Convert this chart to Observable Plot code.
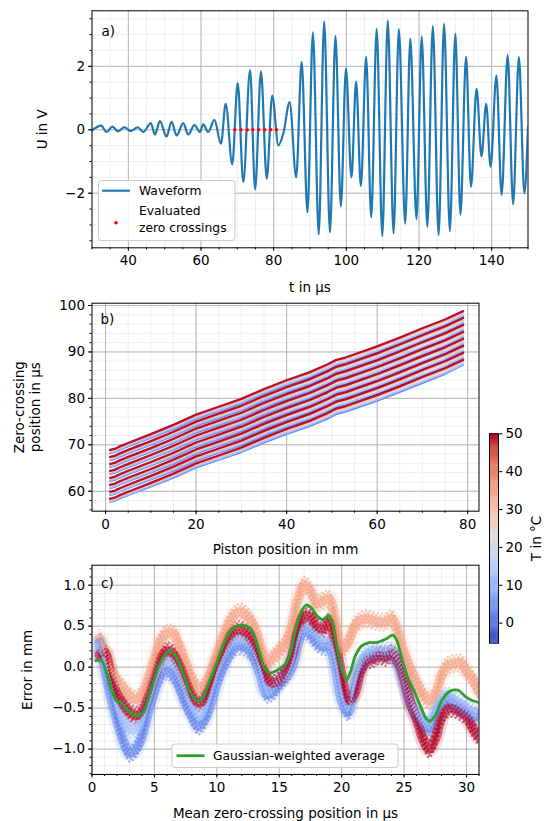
<!DOCTYPE html>
<html><head><meta charset="utf-8">
<script src="https://cdn.jsdelivr.net/npm/d3@7"></script>
<script src="https://cdn.jsdelivr.net/npm/@observablehq/plot@0.6"></script>
<style>
body{margin:0;background:#fff;}
#root{position:relative;width:546px;height:821px;font-family:"DejaVu Sans",sans-serif;overflow:hidden;}
#root > svg, #root > figure, #root > div{position:absolute;}
</style></head><body><div id="root"></div>
<script>
// ---------- Panel a: waveform (extrema) ----------
const waveT = [30, 32.5, 34.0, 35.6, 37.2, 38.9, 40.7, 42.6, 44.1, 46.2, 47.3, 48.7, 50.5, 51.9, 53.3, 55.1, 56.5, 58.2, 59.7, 60.6, 62.0, 63.7, 65.5, 66.8, 68.6, 70.1, 71.65, 73.5, 74.9, 76.5, 78.1, 79.6, 81.3, 82.7, 84.4, 86.2, 87.7, 89.3, 90.8, 92.4, 93.9, 95.5, 97.0, 98.5, 99.9, 101.4, 102.7, 104.0, 105.45, 106.85, 108.35, 109.9, 111.4, 113.0, 114.45, 116.2, 117.6, 119.3, 120.75, 122.3, 123.8, 125.4, 126.9, 128.5, 130.0, 131.4, 132.95, 134.3, 135.85, 137.2, 138.5, 139.7, 141.3, 142.75, 144.4, 145.9, 147.5, 149.0, 150];
const waveU = [-0.02, 0.13, -0.07, 0.1, -0.05, 0.08, -0.04, 0.08, -0.07, 0.21, -0.15, 0.27, -0.21, 0.25, -0.18, 0.21, -0.15, 0.15, -0.07, 0.17, -0.07, 0.31, -0.44, 0.82, -1.09, 1.47, -1.64, 1.88, -1.88, 1.84, -1.54, 1.08, -0.49, -0.1, 0.87, -1.5, 2.14, -2.6, 3.07, -3.3, 3.42, -3.24, 2.96, -2.42, 1.94, -1.5, 1.52, -1.77, 2.3, -2.76, 3.18, -3.35, 3.44, -3.27, 3.17, -2.96, 2.87, -2.82, 2.94, -3.06, 3.27, -3.32, 3.34, -3.2, 3.03, -2.68, 2.3, -1.8, 1.29, -0.84, 0.82, -1.17, 1.71, -2.05, 2.35, -2.35, 2.29, -2.0, 0.1];
const zeroCrossings = [69.3, 71.0, 72.75, 74.25, 75.9, 77.55, 79.2, 80.75];

// ---------- Panel b: zero-crossing position vs piston position ----------
const pistonX = [1, 2, 3, 5, 10, 15, 20, 25, 30, 35, 40, 45, 49, 51, 53, 60, 65, 70, 75, 79];
// top zero crossing, one curve per temperature
const zcTemps = [2, 12, 30, 50];
const zcTop = {
  2:  [68.2, 68.4, 68.85, 69.65, 71.5, 73.4, 75.6, 77.25, 78.9, 80.95, 82.8, 84.45, 86.1, 87.1, 87.6, 89.95, 91.85, 93.8, 95.75, 97.7],
  12: [68.35, 68.55, 69.05, 69.85, 71.7, 73.65, 75.85, 77.5, 79.15, 81.25, 83.1, 84.75, 86.4, 87.4, 87.9, 90.25, 92.15, 94.1, 96.0, 97.9],
  30: [68.6, 68.8, 69.3, 70.1, 72.0, 73.95, 76.15, 77.85, 79.55, 81.65, 83.55, 85.25, 86.9, 87.9, 88.4, 90.8, 92.7, 94.7, 96.55, 98.35],
  50: [68.9, 69.1, 69.6, 70.4, 72.3, 74.3, 76.5, 78.2, 79.9, 82.0, 83.9, 85.6, 87.3, 88.3, 88.8, 91.2, 93.1, 95.1, 97.0, 98.8]
};
const crossingShift = [0, -1.5, -3.0, -4.5, -6.0, -7.5, -9.0, -10.5];

// ---------- Panel c: error vs mean zero-crossing position ----------
const cloudX = [0.6, 1, 1.5, 2, 2.5, 3, 3.5, 4, 4.5, 5, 5.5, 6, 6.5, 7, 7.5, 8, 8.5, 9, 9.5, 10, 10.5, 11, 11.5, 12, 12.5, 13, 13.5, 14, 14.5, 15, 15.5, 16, 16.5, 17, 17.5, 18, 18.5, 19, 19.5, 20, 20.5, 21, 21.5, 22, 22.5, 23, 23.5, 24, 24.5, 25, 25.5, 26, 26.5, 27, 27.5, 28, 28.5, 29, 29.5, 30, 30.5, 31];
const cloudTemps = [35, 2, 12, 50];
const cloudErr = {
  35: [0.35, 0.2, -0.02, -0.16, -0.26, -0.35, -0.39, -0.33, -0.14, 0.1, 0.33, 0.41, 0.41, 0.26, 0.06, -0.14, -0.26, -0.22, -0.06, 0.16, 0.37, 0.55, 0.65, 0.67, 0.61, 0.49, 0.26, 0.05, 0.12, 0.2, 0.3, 0.5, 0.83, 1.0, 0.93, 0.77, 0.81, 0.83, 0.57, 0.22, 0.3, 0.49, 0.57, 0.59, 0.57, 0.55, 0.55, 0.59, 0.43, 0.18, -0.02, -0.18, -0.33, -0.41, -0.33, -0.1, 0.02, 0.04, 0.05, -0.05, -0.15, -0.3],
  2:  [0.3, 0.0, -0.35, -0.65, -0.9, -1.05, -1.0, -0.85, -0.55, -0.3, -0.1, -0.05, -0.1, -0.25, -0.45, -0.6, -0.72, -0.65, -0.45, -0.2, 0.0, 0.15, 0.25, 0.25, 0.22, 0.1, -0.1, -0.33, -0.3, -0.2, -0.12, 0.0, 0.3, 0.45, 0.4, 0.3, 0.25, 0.25, 0.0, -0.4, -0.55, -0.25, 0.0, 0.1, 0.15, 0.15, 0.15, 0.15, 0.05, -0.2, -0.45, -0.6, -0.7, -0.75, -0.6, -0.45, -0.4, -0.45, -0.5, -0.55, -0.6, -0.6],
  12: [0.25, 0.1, -0.2, -0.5, -0.65, -0.75, -0.75, -0.65, -0.45, -0.2, 0.0, 0.08, 0.05, -0.1, -0.3, -0.5, -0.6, -0.55, -0.35, -0.1, 0.1, 0.25, 0.32, 0.33, 0.3, 0.18, -0.05, -0.3, -0.25, -0.15, -0.1, 0.05, 0.35, 0.48, 0.45, 0.38, 0.3, 0.3, 0.05, -0.35, -0.5, -0.2, 0.05, 0.15, 0.2, 0.2, 0.2, 0.2, 0.1, -0.15, -0.4, -0.55, -0.65, -0.7, -0.55, -0.4, -0.35, -0.4, -0.45, -0.5, -0.55, -0.55],
  50: [0.15, 0.18, -0.1, -0.33, -0.45, -0.55, -0.59, -0.55, -0.37, -0.12, 0.1, 0.2, 0.16, 0.02, -0.16, -0.35, -0.43, -0.39, -0.2, 0.02, 0.2, 0.37, 0.45, 0.45, 0.39, 0.26, 0.06, -0.12, -0.2, -0.16, -0.06, 0.12, 0.45, 0.63, 0.61, 0.49, 0.47, 0.55, 0.28, -0.1, -0.41, -0.33, -0.06, 0.08, 0.1, 0.14, 0.12, 0.16, 0.08, -0.14, -0.43, -0.63, -0.87, -1.0, -0.87, -0.61, -0.51, -0.51, -0.55, -0.6, -0.75, -0.85]
};
const avgX = [0.3, 0.75, 1.15, 1.55, 1.95, 2.35, 2.75, 3.3, 3.7, 4.1, 4.5, 5.0, 5.55, 6.1, 6.35, 6.75, 7.3, 7.85, 8.4, 8.8, 9.3, 10.0, 10.5, 11.05, 11.6, 12.1, 12.65, 13.05, 13.45, 13.85, 14.25, 14.8, 15.5, 15.9, 16.3, 16.8, 17.2, 17.6, 18.0, 18.5, 18.95, 19.2, 19.6, 20.0, 20.37, 20.7, 21.1, 21.6, 22.2, 22.8, 23.5, 24.1, 24.4, 24.8, 25.2, 25.77, 26.3, 26.7, 27.05, 27.5, 28.0, 28.6, 28.9, 29.3, 29.5, 30, 30.5, 31];
const avgErr = [0.08, 0.08, -0.06, -0.26, -0.41, -0.43, -0.51, -0.57, -0.59, -0.55, -0.39, -0.14, 0.08, 0.19, 0.2, 0.12, -0.08, -0.3, -0.41, -0.39, -0.22, 0.06, 0.26, 0.43, 0.5, 0.51, 0.48, 0.37, 0.16, -0.02, -0.07, -0.04, 0.04, 0.18, 0.45, 0.69, 0.76, 0.72, 0.63, 0.58, 0.63, 0.57, 0.26, -0.02, -0.16, -0.06, 0.14, 0.26, 0.3, 0.3, 0.34, 0.39, 0.33, 0.12, -0.1, -0.28, -0.47, -0.61, -0.66, -0.59, -0.41, -0.3, -0.28, -0.28, -0.3, -0.37, -0.41, -0.43];

// ---------- Colour bar ----------
const cbTicks = [0, 10, 20, 30, 40, 50];
const tMin = -5.3, tMax = 50;
const coolwarm = ["#3b4cc0","#6282ea","#8db0fe","#b8d0f9","#dddcdc","#f5c4ac","#f49a7b","#e26952","#b40426"];

// ---------- helpers ----------
const colorOpt = {type: "linear", domain: coolwarm.map((_, i) => tMin + i * (tMax - tMin) / 8), range: coolwarm, interpolate: "rgb"};
const style = {fontFamily: "'DejaVu Sans', sans-serif", fontSize: "13.5px", color: "#000", background: "transparent", overflow: "visible"};
const minus = s => s.replace("-", "\u2212");
const fmtInt = d => minus(String(d));
const fmt1 = d3.format(".1f");
const seq = (a, b, s) => { const r = []; for (let i = 0; a + i * s <= b + 1e-9; i++) r.push(+(a + i * s).toFixed(4)); return r; };

function frameMarks(xMinor, xMajor, yMinor, yMajor) {
  return [
    Plot.gridX(xMinor, {stroke: "#ebebeb", strokeOpacity: 1, strokeWidth: 0.8}),
    Plot.gridY(yMinor, {stroke: "#ebebeb", strokeOpacity: 1, strokeWidth: 0.8}),
    Plot.gridX(xMajor, {stroke: "#b0b0b0", strokeOpacity: 1, strokeWidth: 0.9}),
    Plot.gridY(yMajor, {stroke: "#b0b0b0", strokeOpacity: 1, strokeWidth: 0.9})
  ];
}
function axisMarks(xMinor, xMajor, yMinor, yMajor, fx, fy) {
  return [
    Plot.axisX({ticks: xMinor, tickSize: 2, tickFormat: () => "", label: null}),
    Plot.axisY({ticks: yMinor, tickSize: 2, tickFormat: () => "", label: null}),
    Plot.axisX({ticks: xMajor, tickSize: 3.5, tickPadding: 4.5, tickFormat: fx, label: null, fontSize: 13.5}),
    Plot.axisY({ticks: yMajor, tickSize: 3.5, tickPadding: 3.5, tickFormat: fy, label: null, fontSize: 13.5}),
    Plot.frame({stroke: "#000", strokeWidth: 1})
  ];
}
const lbl = (s, o) => Plot.text([s], {text: d => d, lineAnchor: "middle", ...o});
const root = document.getElementById("root");
function place(el, left, top) { el.style.left = left + "px"; el.style.top = top + "px"; root.appendChild(el); }

// ---------- Panel a ----------
const wave = waveT.map((t, i) => ({t, u: waveU[i]}));
const aXmaj = [40, 60, 80, 100, 120, 140], aXmin = seq(30, 150, 5);
const aYmaj = [-2, 0, 2], aYmin = seq(-3.5, 3.5, 0.5);
const plotA = Plot.plot({
  width: 546, height: 300, marginLeft: 91.5, marginRight: 18.5, marginTop: 10.3, marginBottom: 52.7,
  style,
  x: {domain: [30, 150], label: null}, y: {domain: [-3.72, 3.75], label: null},
  marks: [
    ...frameMarks(aXmin, aXmaj, aYmin, aYmaj),
    Plot.line(wave, {x: "t", y: "u", stroke: "#1f77b4", strokeWidth: 2.2, curve: "monotone-x", clip: true}),
    Plot.dot(zeroCrossings, {x: d => d, y: () => 0, r: 1.7, fill: "red", stroke: null}),
    ...axisMarks(aXmin, aXmaj, aYmin, aYmaj, fmtInt, fmtInt),
    lbl("a)", {frameAnchor: "top-left", dx: 9.5, dy: 20.5, textAnchor: "start"}),
    lbl("t in \u00b5s", {frameAnchor: "bottom", dy: 39.5, textAnchor: "middle"}),
    lbl("U in V", {frameAnchor: "left", dx: -49, rotate: -90, textAnchor: "middle"})
  ]
});
place(plotA, 0, 0);

// ---------- Panel b ----------
const rowsB = [];
zcTemps.forEach(T => crossingShift.forEach((s, k) => pistonX.forEach((x, i) => rowsB.push({x, y: zcTop[T][i] + s, T, key: T + "-" + k}))));
const bXmaj = [0, 20, 40, 60, 80], bXmin = seq(0, 80, 5);
const bYmaj = [60, 70, 80, 90, 100], bYmin = seq(56, 100, 2);
const plotB = Plot.plot({
  width: 546, height: 270, marginLeft: 91.5, marginRight: 67.5, marginTop: 12.7, marginBottom: 49.3,
  style,
  x: {domain: [-3, 82.5], label: null}, y: {domain: [55.7, 100.5], label: null},
  color: colorOpt,
  marks: [
    ...frameMarks(bXmin, bXmaj, bYmin, bYmaj),
    Plot.line(rowsB.filter(d => d.T < 40), {x: "x", y: "y", z: "key", stroke: "T", strokeWidth: 1.9, strokeOpacity: 0.95}),
    Plot.line(rowsB.filter(d => d.T >= 40), {x: "x", y: "y", z: "key", stroke: "T", strokeWidth: 2.3, strokeOpacity: 0.95}),
    ...axisMarks(bXmin, bXmaj, bYmin, bYmaj, fmtInt, fmtInt),
    lbl("b)", {frameAnchor: "top-left", dx: 8.5, dy: 16.5, textAnchor: "start"}),
    lbl("Piston position in mm", {frameAnchor: "bottom", dy: 38.5, textAnchor: "middle"}),
    lbl("Zero-crossing\nposition in \u00b5s", {frameAnchor: "left", dx: -65, rotate: -90, textAnchor: "middle", lineHeight: 1.18})
  ]
});
place(plotB, 0, 290);

// ---------- Panel c ----------
const rowsC = [];
cloudTemps.forEach(T => cloudX.forEach((x, i) => rowsC.push({x, y: cloudErr[T][i], T})));
const avg = avgX.map((x, i) => ({x, y: avgErr[i]}));
const cXmaj = [0, 5, 10, 15, 20, 25, 30], cXmin = seq(0, 31, 1);
const cYmaj = [-1.0, -0.5, 0.0, 0.5, 1.0], cYmin = seq(-1.3, 1.2, 0.1);
// fuzzy edge rows give the cloud a scatter texture (pixel offsets are styling only)
const rowOffsets = [[-8.5, 0], [-6, 1.7], [6, 0.8], [8.5, 2.5]];
const cloudMarks = [
  Plot.line(rowsC, {x: "x", y: "y", z: "T", stroke: "T", strokeWidth: 16, strokeOpacity: 0.14, curve: "catmull-rom", strokeLinecap: "round", clip: true}),
  ...rowOffsets.map(([dy, off]) => Plot.line(rowsC, {x: "x", y: "y", z: "T", stroke: "T", dy, strokeWidth: 2.3, strokeOpacity: 0.6, strokeDasharray: "0 4.2", strokeDashoffset: off, strokeLinecap: "round", curve: "catmull-rom", clip: true})),
  Plot.line(rowsC, {x: "x", y: "y", z: "T", stroke: "T", strokeWidth: 10, strokeOpacity: 0.55, curve: "catmull-rom", strokeLinecap: "round", clip: true}),
  ...[[-3, 1.1], [0, 0], [3, 2]].map(([dy, off]) => Plot.line(rowsC, {x: "x", y: "y", z: "T", stroke: "T", dy, strokeWidth: 2.6, strokeOpacity: 0.7, strokeDasharray: "0 3.4", strokeDashoffset: off, strokeLinecap: "round", curve: "catmull-rom", clip: true}))
];
const plotC = Plot.plot({
  width: 546, height: 266, marginLeft: 91.5, marginRight: 67.5, marginTop: 9.7, marginBottom: 47,
  style,
  x: {domain: [0, 31], label: null}, y: {domain: [-1.31, 1.244], label: null},
  color: colorOpt,
  marks: [
    ...frameMarks(cXmin, cXmaj, cYmin, cYmaj),
    ...cloudMarks,
    Plot.line(avg, {x: "x", y: "y", stroke: "#2ca02c", strokeWidth: 2.8, curve: "catmull-rom", clip: true}),
    ...axisMarks(cXmin, cXmaj, cYmin, cYmaj, fmtInt, d => minus(fmt1(d))),
    lbl("c)", {frameAnchor: "top-left", dx: 9, dy: 18.5, textAnchor: "start"}),
    lbl("Mean zero-crossing position in \u00b5s", {frameAnchor: "bottom", dy: 39, textAnchor: "middle"}),
    lbl("Error in mm", {frameAnchor: "left", dx: -64, rotate: -90, textAnchor: "middle"})
  ]
});
place(plotC, 0, 555);

// ---------- Colour bar ----------
const cbSteps = seq(tMin, tMax - 0.25, 0.25);
const plotCB = Plot.plot({
  width: 76, height: 240, marginLeft: 19, marginRight: 48, marginTop: 13.3, marginBottom: 17.3,
  style,
  x: {domain: [0, 1], axis: null}, y: {domain: [tMin, tMax], label: null},
  color: colorOpt,
  marks: [
    Plot.rect(cbSteps, {x1: 0, x2: 1, y1: d => d, y2: d => Math.min(d + 0.35, tMax), fill: d => d}),
    Plot.axisY({ticks: cbTicks, anchor: "right", tickSize: 3.5, tickPadding: 3.5, tickFormat: fmtInt, label: null, fontSize: 13.5}),
    Plot.frame({stroke: "#000", strokeWidth: 1}),
    lbl("T in \u00b0C", {frameAnchor: "right", dx: 38, rotate: -90, textAnchor: "middle"})
  ]
});
place(plotCB, 470, 420);

// ---------- Legends ----------
const ns = "http://www.w3.org/2000/svg";
const leg = document.createElementNS(ns, "svg");
leg.setAttribute("width", 546); leg.setAttribute("height", 821);
leg.style.left = "0px"; leg.style.top = "0px";
leg.innerHTML = `
<g font-family="DejaVu Sans, sans-serif" font-size="12.3" fill="#000">
 <rect x="98.5" y="180.5" width="136.5" height="60" rx="3" fill="#fff" fill-opacity="0.85" stroke="#cccccc" stroke-width="1"/>
 <line x1="102" x2="130" y1="190.7" y2="190.7" stroke="#1f77b4" stroke-width="2.1"/>
 <text x="139" y="190.7" dominant-baseline="central">Waveform</text>
 <circle cx="116" cy="222.7" r="1.8" fill="red"/>
 <text x="139" y="211" dominant-baseline="central">Evaluated</text>
 <text x="139" y="228" dominant-baseline="central">zero crossings</text>
 <rect x="172" y="744" width="226" height="23.5" rx="3" fill="#fff" fill-opacity="0.85" stroke="#cccccc" stroke-width="1"/>
 <line x1="176.5" x2="204.5" y1="755.7" y2="755.7" stroke="#2ca02c" stroke-width="2.8"/>
 <text x="213" y="755.7" dominant-baseline="central">Gaussian-weighted average</text>
</g>`;
root.appendChild(leg);
</script></body></html>
